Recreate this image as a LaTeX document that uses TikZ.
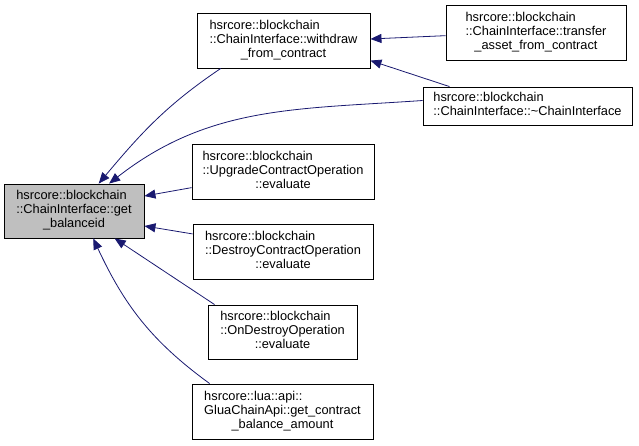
\documentclass[tikz,border=0pt]{standalone}
\usepackage{fontspec}
\setmainfont{Liberation Sans}
\usetikzlibrary{arrows.meta}

\definecolor{edgeblue}{RGB}{25,25,112}
\definecolor{rootgray}{RGB}{191,191,191}

% three-line label: first lines left, last line centred
\newcommand{\fnthree}[3]{\begin{tabular}{@{}l@{}}#1\\#2\\\multicolumn{1}{@{}c@{}}{#3}\end{tabular}}
\newcommand{\fntwo}[2]{\begin{tabular}{@{}l@{}}#1\\#2\end{tabular}}

\begin{document}
\begin{tikzpicture}[x=1pt, y=1pt, fn/.style={draw=black, line width=0.9pt, fill=white, inner sep=0pt, font=\fontsize{12.8}{14}\selectfont}, caller/.style={draw=edgeblue, line width=0.8pt, -{Triangle[length=11pt, width=9pt]}}]
	\useasboundingbox (0,0) rectangle (639,-445);
	\node[fn, fill=rootgray, minimum width=140pt, minimum height=54pt] (root) at (74,-211) {\fnthree{hsrcore::blockchain}{::ChainInterface::get}{\_balanceid}};
	\node[fn, minimum width=173pt, minimum height=55pt] (withdraw) at (283.5,-40.5) {\fnthree{hsrcore::blockchain}{::ChainInterface::withdraw}{\_from\_contract}};
	\node[fn, minimum width=180pt, minimum height=55pt] (transfer) at (536,-32.5) {\fnthree{hsrcore::blockchain}{::ChainInterface::transfer}{\_asset\_from\_contract}};
	\node[fn, minimum width=209pt, minimum height=38pt] (dtor) at (527.5,-106) {\fntwo{hsrcore::blockchain}{::ChainInterface::\textasciitilde ChainInterface}};
	\node[fn, minimum width=182pt, minimum height=55pt] (upgrade) at (283,-171.5) {\fnthree{hsrcore::blockchain}{::UpgradeContractOperation}{::evaluate}};
	\node[fn, minimum width=180pt, minimum height=55pt] (destroy) at (283,-251.5) {\fnthree{hsrcore::blockchain}{::DestroyContractOperation}{::evaluate}};
	\node[fn, minimum width=149pt, minimum height=54pt] (ondestroy) at (282.5,-332) {\fnthree{hsrcore::blockchain}{::OnDestroyOperation}{::evaluate}};
	\node[fn, minimum width=181pt, minimum height=55pt] (glua) at (282.5,-411.5) {\fnthree{hsrcore::lua::api::}{GluaChainApi::get\_contract}{\_balance\_amount}};
	% callers of get_balanceid
	\draw[caller] (withdraw.-156) to[out=-146, in=50] (root.48);
	\draw[caller] (dtor.177) to[out=184, in=38] (root.38);
	\draw[caller] (upgrade.190) -- (root.12);
	\draw[caller] (destroy.169) -- (root.-12);
	\draw[caller] (ondestroy.158) -- (root.-34);
	\draw[caller] (glua.159) to[out=144, in=-65] (root.-55);
	% callers of withdraw_from_contract
	\draw[caller] (transfer.182) -- (withdraw.1);
	\draw[caller] (dtor.166) -- (withdraw.-13);
\end{tikzpicture}
\end{document}
